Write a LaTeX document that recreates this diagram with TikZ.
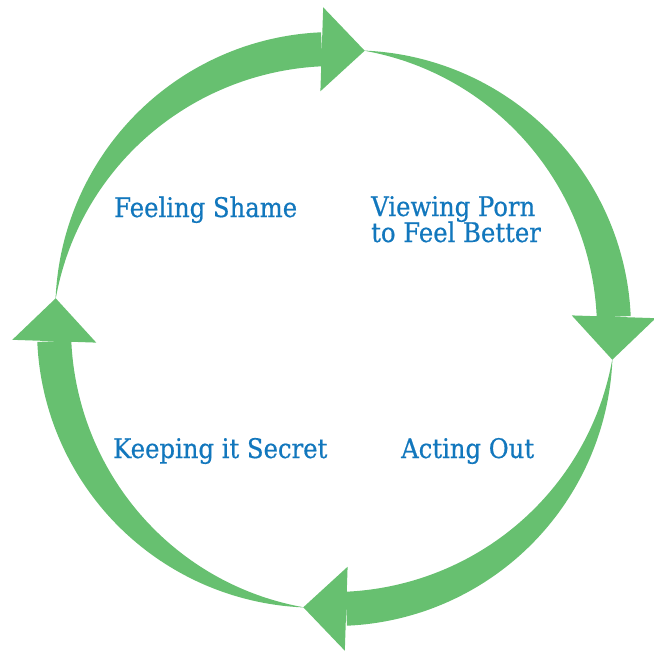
\documentclass[tikz,border=0pt]{standalone}
\usepackage{fontspec}
\setmainfont{DejaVu Serif}[FakeStretch=0.9,FakeBold=0.6]
\usetikzlibrary{calc}
\definecolor{arrowgreen}{RGB}{103,192,112}
\definecolor{labelblue}{RGB}{18,119,189}
\begin{document}
\begin{tikzpicture}[x=1pt,y=1pt,
  lbl/.style={anchor=base west,inner sep=0pt,text=labelblue,font=\fontsize{27}{30}\selectfont}]
\useasboundingbox (0,0) rectangle (654,-654);
\foreach \k in {0,1,2,3}{
  \pgfmathsetmacro\ta{174-90*\k}
  \pgfmathsetmacro\tb{92.5-90*\k}
  \pgfmathsetmacro\tt{83.7-90*\k}
  \fill[arrowgreen]
    plot[domain=\ta:\tb,samples=90] ({334+(280+17*sin(90*(\ta-\x)/81.5))*cos(\x)},{-329+(280+17*sin(90*(\ta-\x)/81.5))*sin(\x)})
    -- plot[domain=\tb:\ta,samples=90] ({334+(280-17*sin(90*(\ta-\x)/81.5))*cos(\x)},{-329+(280-17*sin(90*(\ta-\x)/81.5))*sin(\x)})
    -- cycle;
  \coordinate (B\k) at ({334+280*cos(\tb)},{-329+280*sin(\tb)});
  \coordinate (T\k) at ({334+280*cos(\tt)},{-329+280*sin(\tt)});
  \fill[arrowgreen] ($(B\k)!42pt!90:(T\k)$) -- (T\k) -- ($(B\k)!42pt!-90:(T\k)$) -- cycle;
}
\node[lbl] (shame) at (114,-217) {Feeling Shame};
\node[lbl] (porn1) at (371,-216) {Viewing Porn};
\node[lbl] (porn2) at (371,-242) {to Feel Better};
\node[lbl] (secret) at (113,-458) {Keeping it Secret};
\node[lbl] (acting) at (401,-458) {Acting Out};
\end{tikzpicture}
\end{document}
